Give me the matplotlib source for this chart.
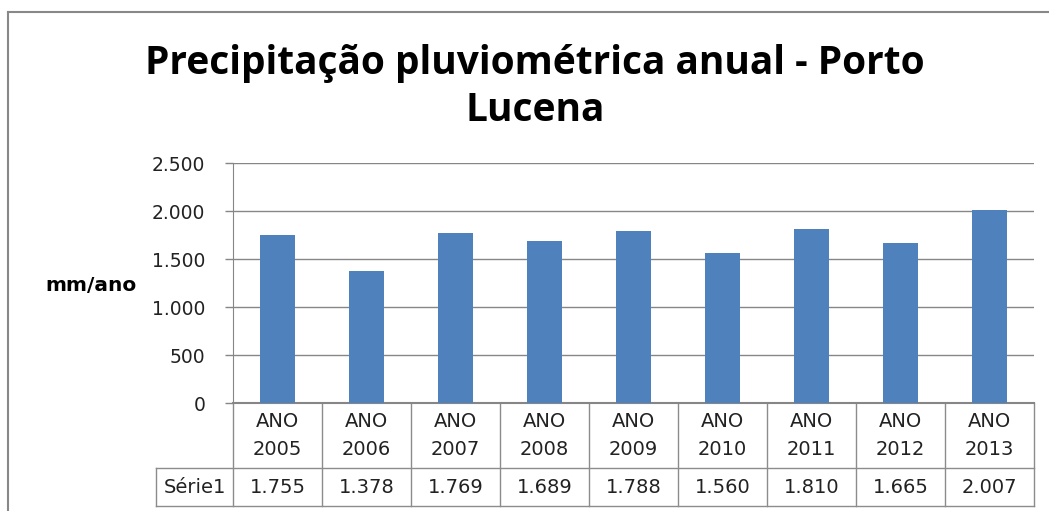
import matplotlib.pyplot as plt
from matplotlib.lines import Line2D

# data
anos = ["2005", "2006", "2007", "2008", "2009", "2010", "2011", "2012", "2013"]
precip = [1755, 1378, 1769, 1689, 1788, 1560, 1810, 1665, 2007]
serie_nome = "Série1"
yticks = [0, 500, 1000, 1500, 2000, 2500]

W, H = 1049, 511
fig = plt.figure(figsize=(W / 100, H / 100), dpi=100)
fig.patch.set_facecolor('white')

# plot area position in pixels
left, right, top, bottom = 233, 1034, 163, 403
ax = fig.add_axes([left / W, 1 - bottom / H, (right - left) / W, (bottom - top) / H])

x = list(range(len(anos)))
ax.bar(x, precip, width=0.4, color='#4F81BD', zorder=3)

ax.set_xlim(-0.5, len(anos) - 0.5)
ax.set_ylim(0, 2500)
ax.set_yticks(yticks)
ax.set_yticklabels([f"{v:,}".replace(",", ".") for v in yticks], fontsize=13.5, color='#222222')
ax.set_xticks([])
ax.yaxis.grid(True, color='#868686', linewidth=1.0, zorder=0)
ax.tick_params(axis='y', length=6, width=1, color='#868686', pad=14)
for s in ['top', 'right']:
    ax.spines[s].set_visible(False)
ax.spines['left'].set_color('#868686')
ax.spines['bottom'].set_color('#868686')
ax.spines['bottom'].set_linewidth(1.5)

fig.text(91 / W, 1 - 285 / H, "mm/ano", fontsize=14.5, fontweight='bold',
         ha='center', va='center')

# title
fig.text(535 / W, 1 - 87 / H, "Precipitação pluviométrica anual - Porto\nLucena",
         fontsize=28, fontweight='bold', family='Open Sans', ha='center', va='center',
         linespacing=1.25)

# data table below the axes
ah = bottom - top
row1 = -(468 - bottom) / ah
row2 = -(506 - bottom) / ah
lab_left = (156 - left) / (right - left)
n = len(anos)
lc = '#8c8c8c'
kw = dict(transform=ax.transAxes, color=lc, linewidth=1.0, clip_on=False)
for i in range(n + 1):
    ax.add_line(Line2D([i / n, i / n], [0, row2], **kw))
ax.add_line(Line2D([lab_left, 1], [row1, row1], **kw))
ax.add_line(Line2D([lab_left, 1], [row2, row2], **kw))
ax.add_line(Line2D([lab_left, lab_left], [row1, row2], **kw))
for i, (a, v) in enumerate(zip(anos, precip)):
    ax.text((i + 0.5) / n, row1 / 2, "ANO\n" + a, transform=ax.transAxes,
            ha='center', va='center', fontsize=14, color='#222222', linespacing=1.55)
    ax.text((i + 0.5) / n, (row1 + row2) / 2, f"{v:,}".replace(",", "."),
            transform=ax.transAxes, ha='center', va='center', fontsize=14, color='#222222')
ax.text(lab_left / 2, (row1 + row2) / 2, serie_nome, transform=ax.transAxes,
        ha='center', va='center', fontsize=14, color='#222222')

# chart border (cropped at right and bottom)
fig.add_artist(Line2D([8 / W, 8 / W], [0, 1 - 12 / H], color='#888888', linewidth=1.5))
fig.add_artist(Line2D([8 / W, 1], [1 - 12 / H, 1 - 12 / H], color='#888888', linewidth=1.5))

fig.savefig('out.png', dpi=100)
